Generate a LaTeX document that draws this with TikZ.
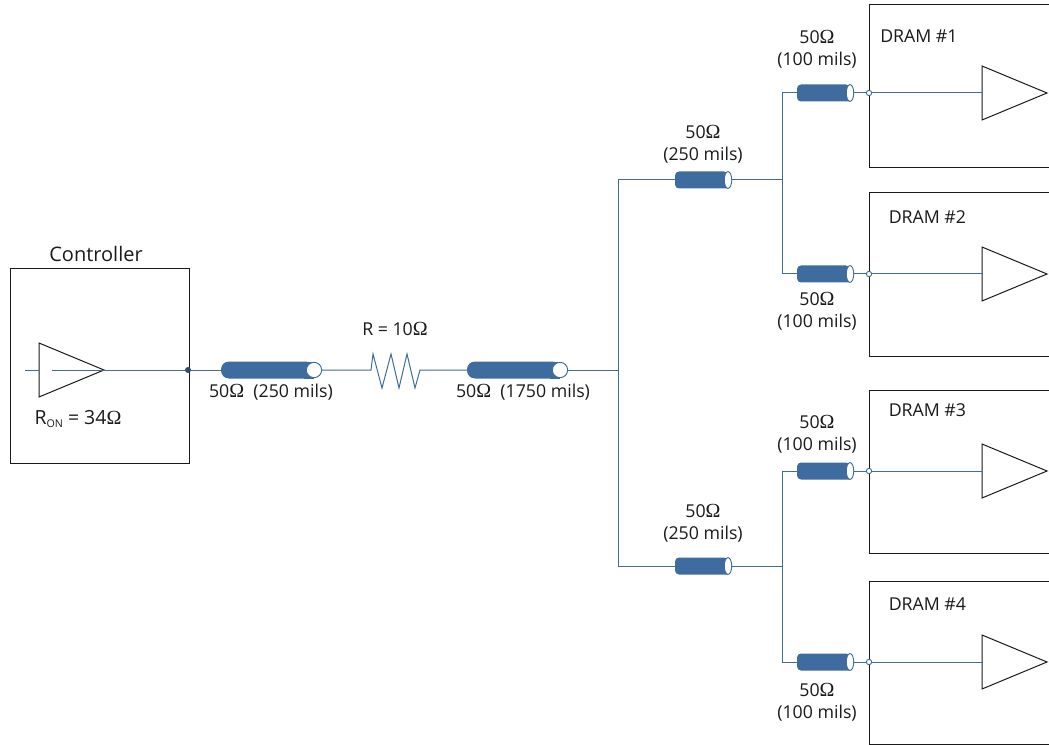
\documentclass[tikz,border=0pt]{standalone}
\usepackage{fontspec}
\setmainfont{Open Sans}
\newfontfamily\omegafont{Liberation Serif}
\usetikzlibrary{shapes.geometric}
\definecolor{wire}{HTML}{3F6C9F}
\definecolor{ink}{HTML}{1A1A1A}
\newcommand{\Om}{{\omegafont\fontsize{15}{15}\selectfont Ω}}
\newcommand{\longcable}[3]{%
  \coordinate (#1) at (#2,#3);
  \fill[cablefill,rounded corners=6pt] (#2+93,#3-8.5) -- (#2,#3-8.5) -- (#2,#3+8.5) -- (#2+93,#3+8.5) -- cycle;
  \fill[cablefill] (#2+83,#3-8.5) rectangle (#2+93,#3+8.5);
  \node[circle,draw=wire,line width=.7pt,fill=white,minimum size=11.5pt,inner sep=0pt] (#1end) at (#2+93,#3) {};
}
\newcommand{\shortcable}[3]{%
  \coordinate (#1) at (#2,#3);
  \fill[cablefill] (#2,#3) [rounded corners=3pt] -- (#2,#3-8.5) -- (#2+53,#3-8.5) [sharp corners] -- (#2+53,#3+8.5) [rounded corners=3pt] -- (#2,#3+8.5) [sharp corners] -- cycle;
  \node[ellipse,draw=wire,line width=.7pt,fill=white,minimum width=5.6pt,minimum height=12.6pt,inner sep=0pt] (#1end) at (#2+53,#3) {};
}
\newcommand{\buffer}[3]{%
  \coordinate (#1) at (#2,#3);
  \coordinate (#1tip) at (#2+65,#3);
  \draw[boxline,line join=miter] (#2,#3-27) -- (#2,#3+27) -- (#1tip) -- cycle;
}
\newcommand{\dram}[5]{%
  \coordinate (#1a) at (1049,#2);
  \coordinate (#1b) at (869,#2);
  \coordinate (#1c) at (869,#3);
  \coordinate (#1d) at (1049,#3);
  \draw[boxline] (#1a) -- (#1b) -- (#1c) -- (#1d);
  \node[lbl,anchor=west,inner sep=0pt] (#1label) at (#4,#5) {DRAM \##1};
}
\tikzset{
  wireline/.style={draw=wire,line width=.75pt},
  boxline/.style={draw=ink,line width=.75pt},
  cablefill/.style={fill=wire},
  lbl/.style={font=\fontsize{13.3}{16.5}\selectfont,align=center,text=ink,inner sep=0pt},
  tap/.style={circle,draw=wire,line width=.7pt,fill=white,minimum size=4pt,inner sep=0pt},
  drvdot/.style={circle,fill=wire!70!black,minimum size=4.5pt,inner sep=0pt}
}
\begin{document}
\begin{tikzpicture}[x=.75pt,y=-.75pt]
\useasboundingbox (0,0) rectangle (1049,745);
% controller
\node[boxline,draw,rectangle,minimum width=134.25pt,minimum height=145.5pt,inner sep=0pt] (ctrl) at (99.5,366) {};
\node[lbl,font=\fontsize{15}{18}\selectfont] (ctrllabel) at (96,254.5) {Controller};
\node[lbl,font=\fontsize{14.6}{18}\selectfont] (ronlabel) at (78,419) {R\raisebox{-2.5pt}{\fontsize{8}{8}\selectfont ON} = 34\Om};
\coordinate (inL) at (25,370);
\coordinate (inM) at (39,370);
\coordinate (inR) at (52,370);
\node[drvdot] (outdot) at (188,370) {};
% DRAM boxes
\dram{1}{5}{168}{880}{36.5}
\dram{2}{193}{356}{888.5}{217.5}
\dram{3}{390}{553}{888.5}{410.5}
\dram{4}{581}{744.5}{888.5}{604.5}
% cables
\longcable{cA}{221}{370}
\longcable{cB}{467}{370}
\shortcable{up}{675}{180}
\shortcable{lo}{675}{566}
\shortcable{d1}{797}{93}
\shortcable{d2}{797}{274}
\shortcable{d3}{797}{471}
\shortcable{d4}{797}{662}
% receivers
\buffer{drv}{39}{370}
\buffer{r1}{982}{93}
\buffer{r2}{982}{274}
\buffer{r3}{982}{471}
\buffer{r4}{982}{662}
\node[tap] (t1) at (869,93) {};
\node[tap] (t2) at (869,274) {};
\node[tap] (t3) at (869,471) {};
\node[tap] (t4) at (869,662) {};
% junctions
\coordinate (trunk) at (618,370);
\coordinate (trunkU) at (618,180);
\coordinate (trunkL) at (618,566);
\coordinate (jU) at (782,180);
\coordinate (jL) at (782,566);
\coordinate (jU1) at (782,93);
\coordinate (jU2) at (782,274);
\coordinate (jL1) at (782,471);
\coordinate (jL2) at (782,662);
% resistor
\coordinate (resL) at (371,370);
\coordinate (resR) at (420,370);
\coordinate (p1) at (373,354);
\coordinate (p2) at (382,388);
\coordinate (p3) at (391,354);
\coordinate (p4) at (399,388);
\coordinate (p5) at (407,354);
\coordinate (p6) at (415,388);
% connectors
\draw[wireline] (inL) -- (inM);
\draw[wireline] (inR) -- (outdot) -- (cA);
\draw[wireline] (cAend) -- (resL) -- (p1) -- (p2) -- (p3) -- (p4) -- (p5) -- (p6) -- (resR) -- (cB);
\draw[wireline] (cBend) -- (trunk);
\draw[wireline] (trunkU) -- (trunkL);
\draw[wireline] (trunkU) -- (up);
\draw[wireline] (trunkL) -- (lo);
\draw[wireline] (upend) -- (jU);
\draw[wireline] (loend) -- (jL);
\draw[wireline] (jU1) -- (jU2);
\draw[wireline] (jL1) -- (jL2);
\foreach \j/\c in {jU1/d1,jU2/d2,jL1/d3,jL2/d4} \draw[wireline] (\j) -- (\c);
\foreach \c/\t/\r in {d1/t1/r1,d2/t2/r2,d3/t3/r3,d4/t4/r4} {
  \draw[wireline] (\c end) -- (\t);
  \draw[wireline] (\t) -- (\r);
}
% labels
\node[lbl] (lA) at (271,392) {50\Om\ \ (250 mils)};
\node[lbl] (lR) at (395,329) {R = 10\Om};
\node[lbl] (lB) at (523,392) {50\Om\ \ (1750 mils)};
\node[lbl] (lU) at (703,144) {50\Om\\(250 mils)};
\node[lbl] (lL) at (703,523) {50\Om\\(250 mils)};
\node[lbl] (l1) at (817,49) {50\Om\\(100 mils)};
\node[lbl] (l2) at (817,311) {50\Om\\(100 mils)};
\node[lbl] (l3) at (817,434) {50\Om\\(100 mils)};
\node[lbl] (l4) at (817,702) {50\Om\\(100 mils)};
\end{tikzpicture}
\end{document}
